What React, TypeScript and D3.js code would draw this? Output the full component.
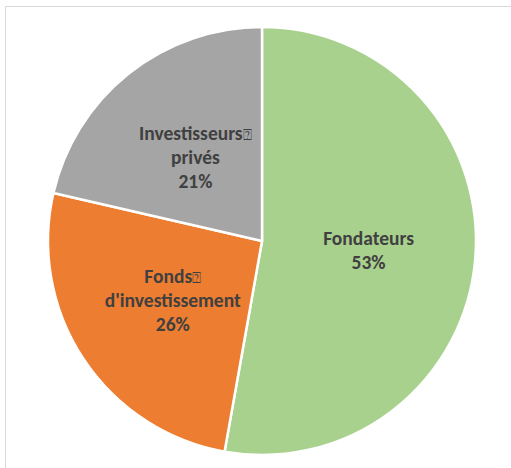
import React from "react";
import * as d3 from "d3";

const categories = ["Fondateurs", "Fonds\u2370\nd'investissement", "Investisseurs\u2370\nprivés"];
const values = [52.8, 25.8, 21.4];
const colors = ["#A9D18E", "#ED7D31", "#A5A5A5"];

const W = 511;
const H = 468;
const CX = 262;
const CY = 241;
const R = 214;
const LINE = 24;

export default function App() {
  const total = d3.sum(values);
  const pie = d3.pie<number>().sort(null).value((d) => d)(values);
  const arc = d3.arc<d3.PieArcDatum<number>>().innerRadius(0).outerRadius(R);

  return (
    <svg
      width={W}
      height={H}
      style={{ position: "absolute", left: 0, top: 0, background: "#fff" }}
      fontFamily="Carlito, Calibri, Lato, sans-serif"
    >
      <rect x={5.5} y={6.5} width={510} height={470} fill="#fff" stroke="#D9D9D9" strokeWidth={1} />
      <g transform={`translate(${CX},${CY})`}>
        {pie.map((p, i) => (
          <path key={i} d={arc(p) || ""} fill={colors[i]} stroke="#fff" strokeWidth={2.5} strokeLinejoin="round" />
        ))}
        {pie.map((p, i) => {
          const [x, y] = arc.centroid(p);
          const lines = categories[i].split("\n").concat([`${Math.round((values[i] / total) * 100)}%`]);
          const n = lines.length;
          return (
            <text key={i} textAnchor="middle" fontWeight="bold" fontSize={19.5} fill="#404040">
              {lines.map((l, j) => {
                const parts = l.split("\u2370");
                return (
                  <tspan key={j} x={x} y={y + (j - (n - 1) / 2) * LINE + 6.5}>
                    {parts[0]}
                    {parts.length > 1 ? (
                      <tspan fontFamily="DejaVu Sans" fontWeight="normal" fontSize={15}>{"\u2370"}</tspan>
                    ) : null}
                  </tspan>
                );
              })}
            </text>
          );
        })}
      </g>
    </svg>
  );
}
